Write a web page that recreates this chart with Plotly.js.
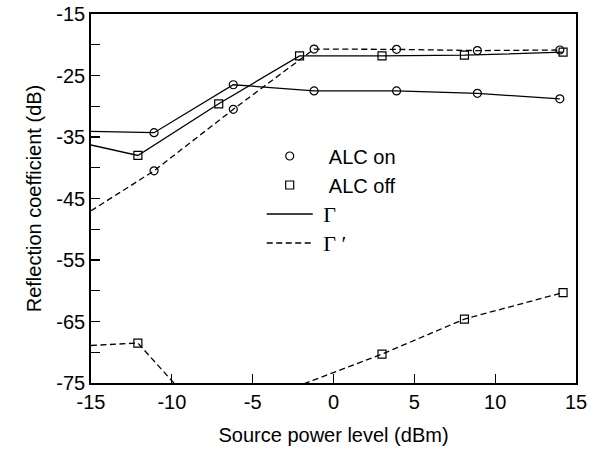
<!DOCTYPE html>
<html><head><meta charset="utf-8">
<script src="https://cdn.plot.ly/plotly-3.0.1.min.js"></script>
<style>html,body{margin:0;padding:0;background:#fff}</style>
</head><body>
<div id="chart" style="width:597px;height:449px"></div>
<script>
// Source power level (dBm) and reflection coefficient (dB).
// The first point of each series is where its line enters at the left edge (no marker there).
const onGammaX  = [-15, -11.1, -6.2, -1.2, 3.9, 8.9, 14.0];
const onGammaY  = [-34.1, -34.3, -26.5, -27.5, -27.5, -27.9, -28.8];
const onGammaPX = [-15, -11.1, -6.2, -1.2, 3.9, 8.9, 14.0];
const onGammaPY = [-47.0, -40.5, -30.5, -20.7, -20.75, -20.95, -20.85];
const offGammaX  = [-15, -12.1, -7.1, -2.1, 3.0, 8.1, 14.2];
const offGammaY  = [-36.3, -38.0, -29.6, -21.8, -21.8, -21.7, -21.2];
const offGammaPX = [-15, -12.1, -7.1, -2.1, 3.0, 8.1, 14.2];
const offGammaPY = [-68.9, -68.5, -83.1, -75.4, -70.3, -64.6, -60.3];

const xTickVals = [-15, -10, -5, 0, 5, 10, 15];
const xTickText = ['-15', '-10', '-5', '0', '5', '10', '15'];
const yTickVals = [-15, -25, -35, -45, -55, -65, -75];
const yTickText = ['-15', '-25', '-35', '-45', '-55', '-65', '-75'];

const NB = '\u00A0';
const legendNames = [NB + NB + 'ALC on', NB + NB + 'ALC off',
  NB + '<span style="font-family:\'Liberation Serif\',serif;font-size:22px">Γ</span>',
  NB + '<span style="font-family:\'Liberation Serif\',serif;font-size:22px">Γ ′</span>'];

const FONT = 'Liberation Sans, Arial, Helvetica, sans-serif';
const LW = 1.3;
const DASH = '6px,3.5px';
const Y_MIN = -75, Y_MAX = -15;

function lineTrace(x, y, dash) {
  return {x: x, y: y, mode: 'lines', showlegend: false, hoverinfo: 'skip',
          line: {color: 'black', width: LW, dash: dash}};
}
function markTrace(x, y, sym) {
  const mx = [], my = [];
  for (let i = 1; i < x.length; i++) {
    if (y[i] >= Y_MIN && y[i] <= Y_MAX) { mx.push(x[i]); my.push(y[i]); }
  }
  return {x: mx, y: my, mode: 'markers', showlegend: false, cliponaxis: true,
          marker: {symbol: sym, size: 8, color: 'black', line: {width: 1.2, color: 'black'}}};
}

const traces = [
  lineTrace(onGammaX, onGammaY, 'solid'),
  lineTrace(onGammaPX, onGammaPY, DASH),
  lineTrace(offGammaX, offGammaY, 'solid'),
  lineTrace(offGammaPX, offGammaPY, DASH),
  markTrace(onGammaX, onGammaY, 'circle-open'),
  markTrace(onGammaPX, onGammaPY, 'circle-open'),
  markTrace(offGammaX, offGammaY, 'square-open'),
  markTrace(offGammaPX, offGammaPY, 'square-open'),
  {x: [null], y: [null], name: legendNames[0], mode: 'markers', legendgroup: 'a',
   marker: {symbol: 'circle-open', size: 8, color: 'black', line: {width: 1.2}}},
  {x: [null], y: [null], name: legendNames[1], mode: 'markers', legendgroup: 'b',
   marker: {symbol: 'square-open', size: 8, color: 'black', line: {width: 1.2}}},
  {x: [null], y: [null], name: legendNames[2], mode: 'lines', legendgroup: 'c',
   line: {color: 'black', width: LW}},
  {x: [null], y: [null], name: legendNames[3], mode: 'lines', legendgroup: 'd',
   line: {color: 'black', width: LW, dash: DASH}}
];

const layout = {
  width: 597, height: 449,
  margin: {l: 91, r: 21, t: 14, b: 66},
  paper_bgcolor: 'white', plot_bgcolor: 'white',
  font: {family: FONT, size: 20, color: 'black'},
  showlegend: true,
  legend: {x: 0.352, xanchor: 'left', y: 0.668, yanchor: 'top', bgcolor: 'rgba(0,0,0,0)',
           borderwidth: 0, itemwidth: 46, tracegroupgap: 0, traceorder: 'grouped',
           font: {family: FONT, size: 20, color: 'black'}},
  xaxis: {range: [-15, 15], tickmode: 'array', tickvals: xTickVals, ticktext: xTickText,
          ticks: 'inside', ticklen: 9, tickwidth: 1.3,
          tickcolor: 'black', showline: true, linecolor: 'black', linewidth: 1.8, mirror: true,
          showgrid: false, zeroline: false, fixedrange: true,
          title: {text: 'Source power level (dBm)', font: {size: 20}, standoff: 16}},
  yaxis: {range: [Y_MIN, Y_MAX], tickmode: 'array', tickvals: yTickVals, ticktext: yTickText,
          ticks: 'inside', ticklen: 9, tickwidth: 1.3,
          tickcolor: 'black', showline: true, linecolor: 'black', linewidth: 1.8, mirror: true,
          showgrid: false, zeroline: false, fixedrange: true,
          minor: {dtick: 5, tick0: -15, ticks: 'inside', ticklen: 9, tickwidth: 1.3, tickcolor: 'black', showgrid: false},
          title: {text: 'Reflection coefficient (dB)', font: {size: 20}, standoff: 9}}
};

Plotly.newPlot('chart', traces, layout, {staticPlot: true, displayModeBar: false});
</script>
</body></html>
